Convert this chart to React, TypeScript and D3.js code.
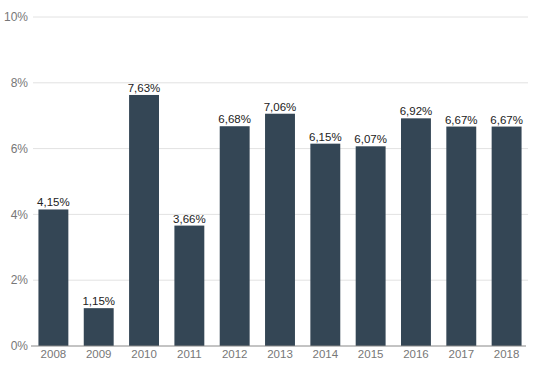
import React from "react";
import * as d3 from "d3";

const years = ["2008","2009","2010","2011","2012","2013","2014","2015","2016","2017","2018"];
const values = [4.15, 1.15, 7.63, 3.66, 6.68, 7.06, 6.15, 6.07, 6.92, 6.67, 6.67];
const yTicks = [0, 2, 4, 6, 8, 10];

const W = 542, H = 371;
const fmt = (v: number) => v.toFixed(2).replace(".", ",") + "%";

export default function App() {
  const x = d3.scaleBand<string>().domain(years).range([33, 527]).paddingInner(0.34).paddingOuter(0.12);
  const y = d3.scaleLinear().domain([0, 10]).range([346, 17]);
  const font = "'Liberation Sans', Arial, Helvetica, sans-serif";
  return (
    <svg width={W} height={H} style={{ position: "absolute", left: 0, top: 0, background: "#fff" }} fontFamily={font}>
      {yTicks.map((t) => (
        <g key={t}>
          {t > 0 && <line x1={33} x2={528} y1={y(t)} y2={y(t)} stroke="#e2e2e2" strokeWidth={1} />}
          <text x={28} y={y(t)} dy="0.35em" textAnchor="end" fontSize={12} fill="#777">{t}%</text>
        </g>
      ))}
      {years.map((yr, i) => (
        <g key={yr}>
          <rect x={x(yr)} y={y(values[i])} width={x.bandwidth()} height={y(0) - y(values[i])} fill="#344655" />
          <text x={(x(yr) as number) + x.bandwidth() / 2} y={y(values[i]) - 3} textAnchor="middle" fontSize={11.5} fill="#222">{fmt(values[i])}</text>
          <text x={(x(yr) as number) + x.bandwidth() / 2} y={358} textAnchor="middle" fontSize={11.5} fill="#777">{yr}</text>
        </g>
      ))}
      <line x1={31} x2={526} y1={y(0)} y2={y(0)} stroke="#888" strokeWidth={1} />
    </svg>
  );
}
